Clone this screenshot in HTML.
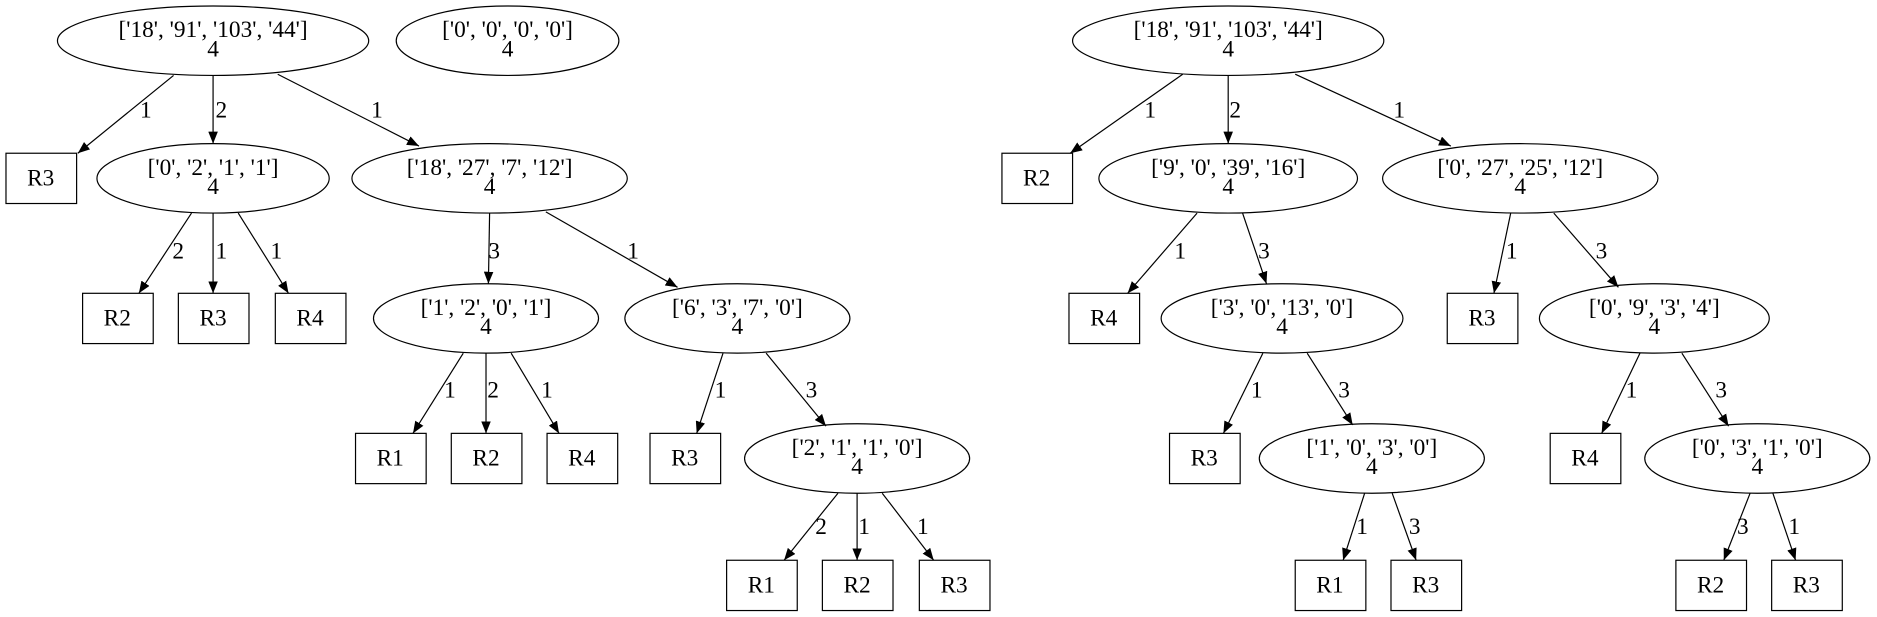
<!DOCTYPE html>
<html><head><meta charset="utf-8"><style>html,body{margin:0;padding:0;background:#fff}svg{display:block}</style></head>
<body>
<svg width="1877" height="617" viewBox="0 0 1568 515.4" preserveAspectRatio="none" xmlns="http://www.w3.org/2000/svg" font-family="Liberation Serif, serif" font-size="19.5">
<defs><marker id="a" markerWidth="10" markerHeight="8" refX="10" refY="4" orient="auto" markerUnits="userSpaceOnUse"><path d="M0,0 L10,4 L0,8 z" fill="#000"/></marker></defs>
<rect width="1568" height="516" fill="#fff"/>
<g fill="none" stroke="#000" stroke-width="1">
<ellipse cx="178" cy="34" rx="130" ry="29"/><ellipse cx="424" cy="34" rx="93" ry="29"/>
<ellipse cx="178" cy="149" rx="97" ry="29"/><ellipse cx="409" cy="149" rx="115" ry="29"/>
<ellipse cx="406" cy="266" rx="94" ry="29"/><ellipse cx="616" cy="266" rx="94" ry="29"/>
<ellipse cx="716" cy="383" rx="94" ry="29"/>
<ellipse cx="1026" cy="34" rx="130" ry="29"/><ellipse cx="1026" cy="149" rx="108" ry="29"/><ellipse cx="1270" cy="149" rx="115" ry="29"/>
<ellipse cx="1071" cy="266" rx="101" ry="29"/><ellipse cx="1382" cy="266" rx="96" ry="29"/>
<ellipse cx="1146" cy="383" rx="94" ry="29"/><ellipse cx="1468" cy="383" rx="94" ry="29"/>
<rect x="5" y="128" width="59" height="42"/>
<rect x="69" y="245" width="59" height="42"/><rect x="149" y="245" width="59" height="42"/><rect x="230" y="245" width="59" height="42"/>
<rect x="297" y="362" width="59" height="42"/><rect x="377" y="362" width="59" height="42"/><rect x="457" y="362" width="59" height="42"/><rect x="543" y="362" width="59" height="42"/>
<rect x="607" y="468" width="59" height="42"/><rect x="687" y="468" width="59" height="42"/><rect x="768" y="468" width="59" height="42"/>
<rect x="837" y="128" width="59" height="42"/><rect x="893" y="245" width="59" height="42"/><rect x="1209" y="245" width="59" height="42"/>
<rect x="977" y="362" width="59" height="42"/><rect x="1295" y="362" width="59" height="42"/>
<rect x="1082" y="468" width="59" height="42"/><rect x="1162" y="468" width="59" height="42"/><rect x="1400" y="468" width="59" height="42"/><rect x="1480" y="468" width="59" height="42"/>
</g>
<g stroke="#000" marker-end="url(#a)">
<line x1="145" y1="63" x2="65" y2="128"/><line x1="178" y1="63" x2="178" y2="120"/><line x1="232" y1="62" x2="350" y2="122"/>
<line x1="160" y1="178" x2="116" y2="245"/><line x1="178" y1="178" x2="178" y2="245"/><line x1="199" y1="178" x2="241" y2="245"/>
<line x1="409" y1="178" x2="408" y2="237"/><line x1="456" y1="177" x2="566" y2="240"/>
<line x1="387" y1="295" x2="345" y2="362"/><line x1="406" y1="295" x2="406" y2="362"/><line x1="427" y1="295" x2="467" y2="362"/>
<line x1="604" y1="295" x2="582" y2="362"/><line x1="640" y1="295" x2="690" y2="356"/>
<line x1="700" y1="412" x2="655" y2="468"/><line x1="716" y1="412" x2="716" y2="468"/><line x1="737" y1="412" x2="780" y2="468"/>
<line x1="988" y1="62" x2="894" y2="128"/><line x1="1026" y1="63" x2="1026" y2="120"/><line x1="1082" y1="62" x2="1212" y2="122"/>
<line x1="1000" y1="178" x2="942" y2="245"/><line x1="1038" y1="178" x2="1058" y2="237"/>
<line x1="1262" y1="178" x2="1248" y2="245"/><line x1="1298" y1="178" x2="1352" y2="240"/>
<line x1="1055" y1="295" x2="1022" y2="362"/><line x1="1092" y1="295" x2="1130" y2="355"/>
<line x1="1370" y1="295" x2="1338" y2="362"/><line x1="1405" y1="295" x2="1444" y2="356"/>
<line x1="1140" y1="412" x2="1122" y2="468"/><line x1="1163" y1="412" x2="1183" y2="468"/>
<line x1="1462" y1="412" x2="1440" y2="468"/><line x1="1481" y1="412" x2="1500" y2="468"/>
</g>
<g text-anchor="middle">
<text x="178" y="31">['18', '91', '103', '44']</text><text x="178" y="47">4</text>
<text x="424" y="31">['0', '0', '0', '0']</text><text x="424" y="47">4</text>
<text x="178" y="146">['0', '2', '1', '1']</text><text x="178" y="162">4</text>
<text x="409" y="146">['18', '27', '7', '12']</text><text x="409" y="162">4</text>
<text x="406" y="263">['1', '2', '0', '1']</text><text x="406" y="279">4</text>
<text x="616" y="263">['6', '3', '7', '0']</text><text x="616" y="279">4</text>
<text x="716" y="380">['2', '1', '1', '0']</text><text x="716" y="396">4</text>
<text x="1026" y="31">['18', '91', '103', '44']</text><text x="1026" y="47">4</text>
<text x="1026" y="146">['9', '0', '39', '16']</text><text x="1026" y="162">4</text>
<text x="1270" y="146">['0', '27', '25', '12']</text><text x="1270" y="162">4</text>
<text x="1071" y="263">['3', '0', '13', '0']</text><text x="1071" y="279">4</text>
<text x="1382" y="263">['0', '9', '3', '4']</text><text x="1382" y="279">4</text>
<text x="1146" y="380">['1', '0', '3', '0']</text><text x="1146" y="396">4</text>
<text x="1468" y="380">['0', '3', '1', '0']</text><text x="1468" y="396">4</text>
<text x="34" y="155">R3</text>
<text x="98" y="272">R2</text><text x="178" y="272">R3</text><text x="259" y="272">R4</text>
<text x="326" y="389">R1</text><text x="406" y="389">R2</text><text x="486" y="389">R4</text><text x="572" y="389">R3</text>
<text x="636" y="495">R1</text><text x="716" y="495">R2</text><text x="797" y="495">R3</text>
<text x="866" y="155">R2</text><text x="922" y="272">R4</text><text x="1238" y="272">R3</text>
<text x="1006" y="389">R3</text><text x="1324" y="389">R4</text>
<text x="1111" y="495">R1</text><text x="1191" y="495">R3</text><text x="1429" y="495">R2</text><text x="1509" y="495">R3</text>
</g>
<g>
<text x="117" y="98">1</text><text x="180" y="98">2</text><text x="310" y="98">1</text>
<text x="144" y="216">2</text><text x="180" y="216">1</text><text x="226" y="216">1</text>
<text x="408" y="216">3</text><text x="524" y="216">1</text>
<text x="371" y="332">1</text><text x="407" y="332">2</text><text x="452" y="332">1</text>
<text x="597" y="332">1</text><text x="673" y="332">3</text>
<text x="681" y="446">2</text><text x="717" y="446">1</text><text x="766" y="446">1</text>
<text x="956" y="98">1</text><text x="1027" y="98">2</text><text x="1164" y="98">1</text>
<text x="981" y="216">1</text><text x="1051" y="216">3</text>
<text x="1258" y="216">1</text><text x="1333" y="216">3</text>
<text x="1045" y="332">1</text><text x="1118" y="332">3</text>
<text x="1358" y="332">1</text><text x="1433" y="332">3</text>
<text x="1133" y="446">1</text><text x="1177" y="446">3</text>
<text x="1451" y="446">3</text><text x="1494" y="446">1</text>
</g>
</svg>
</body></html>
